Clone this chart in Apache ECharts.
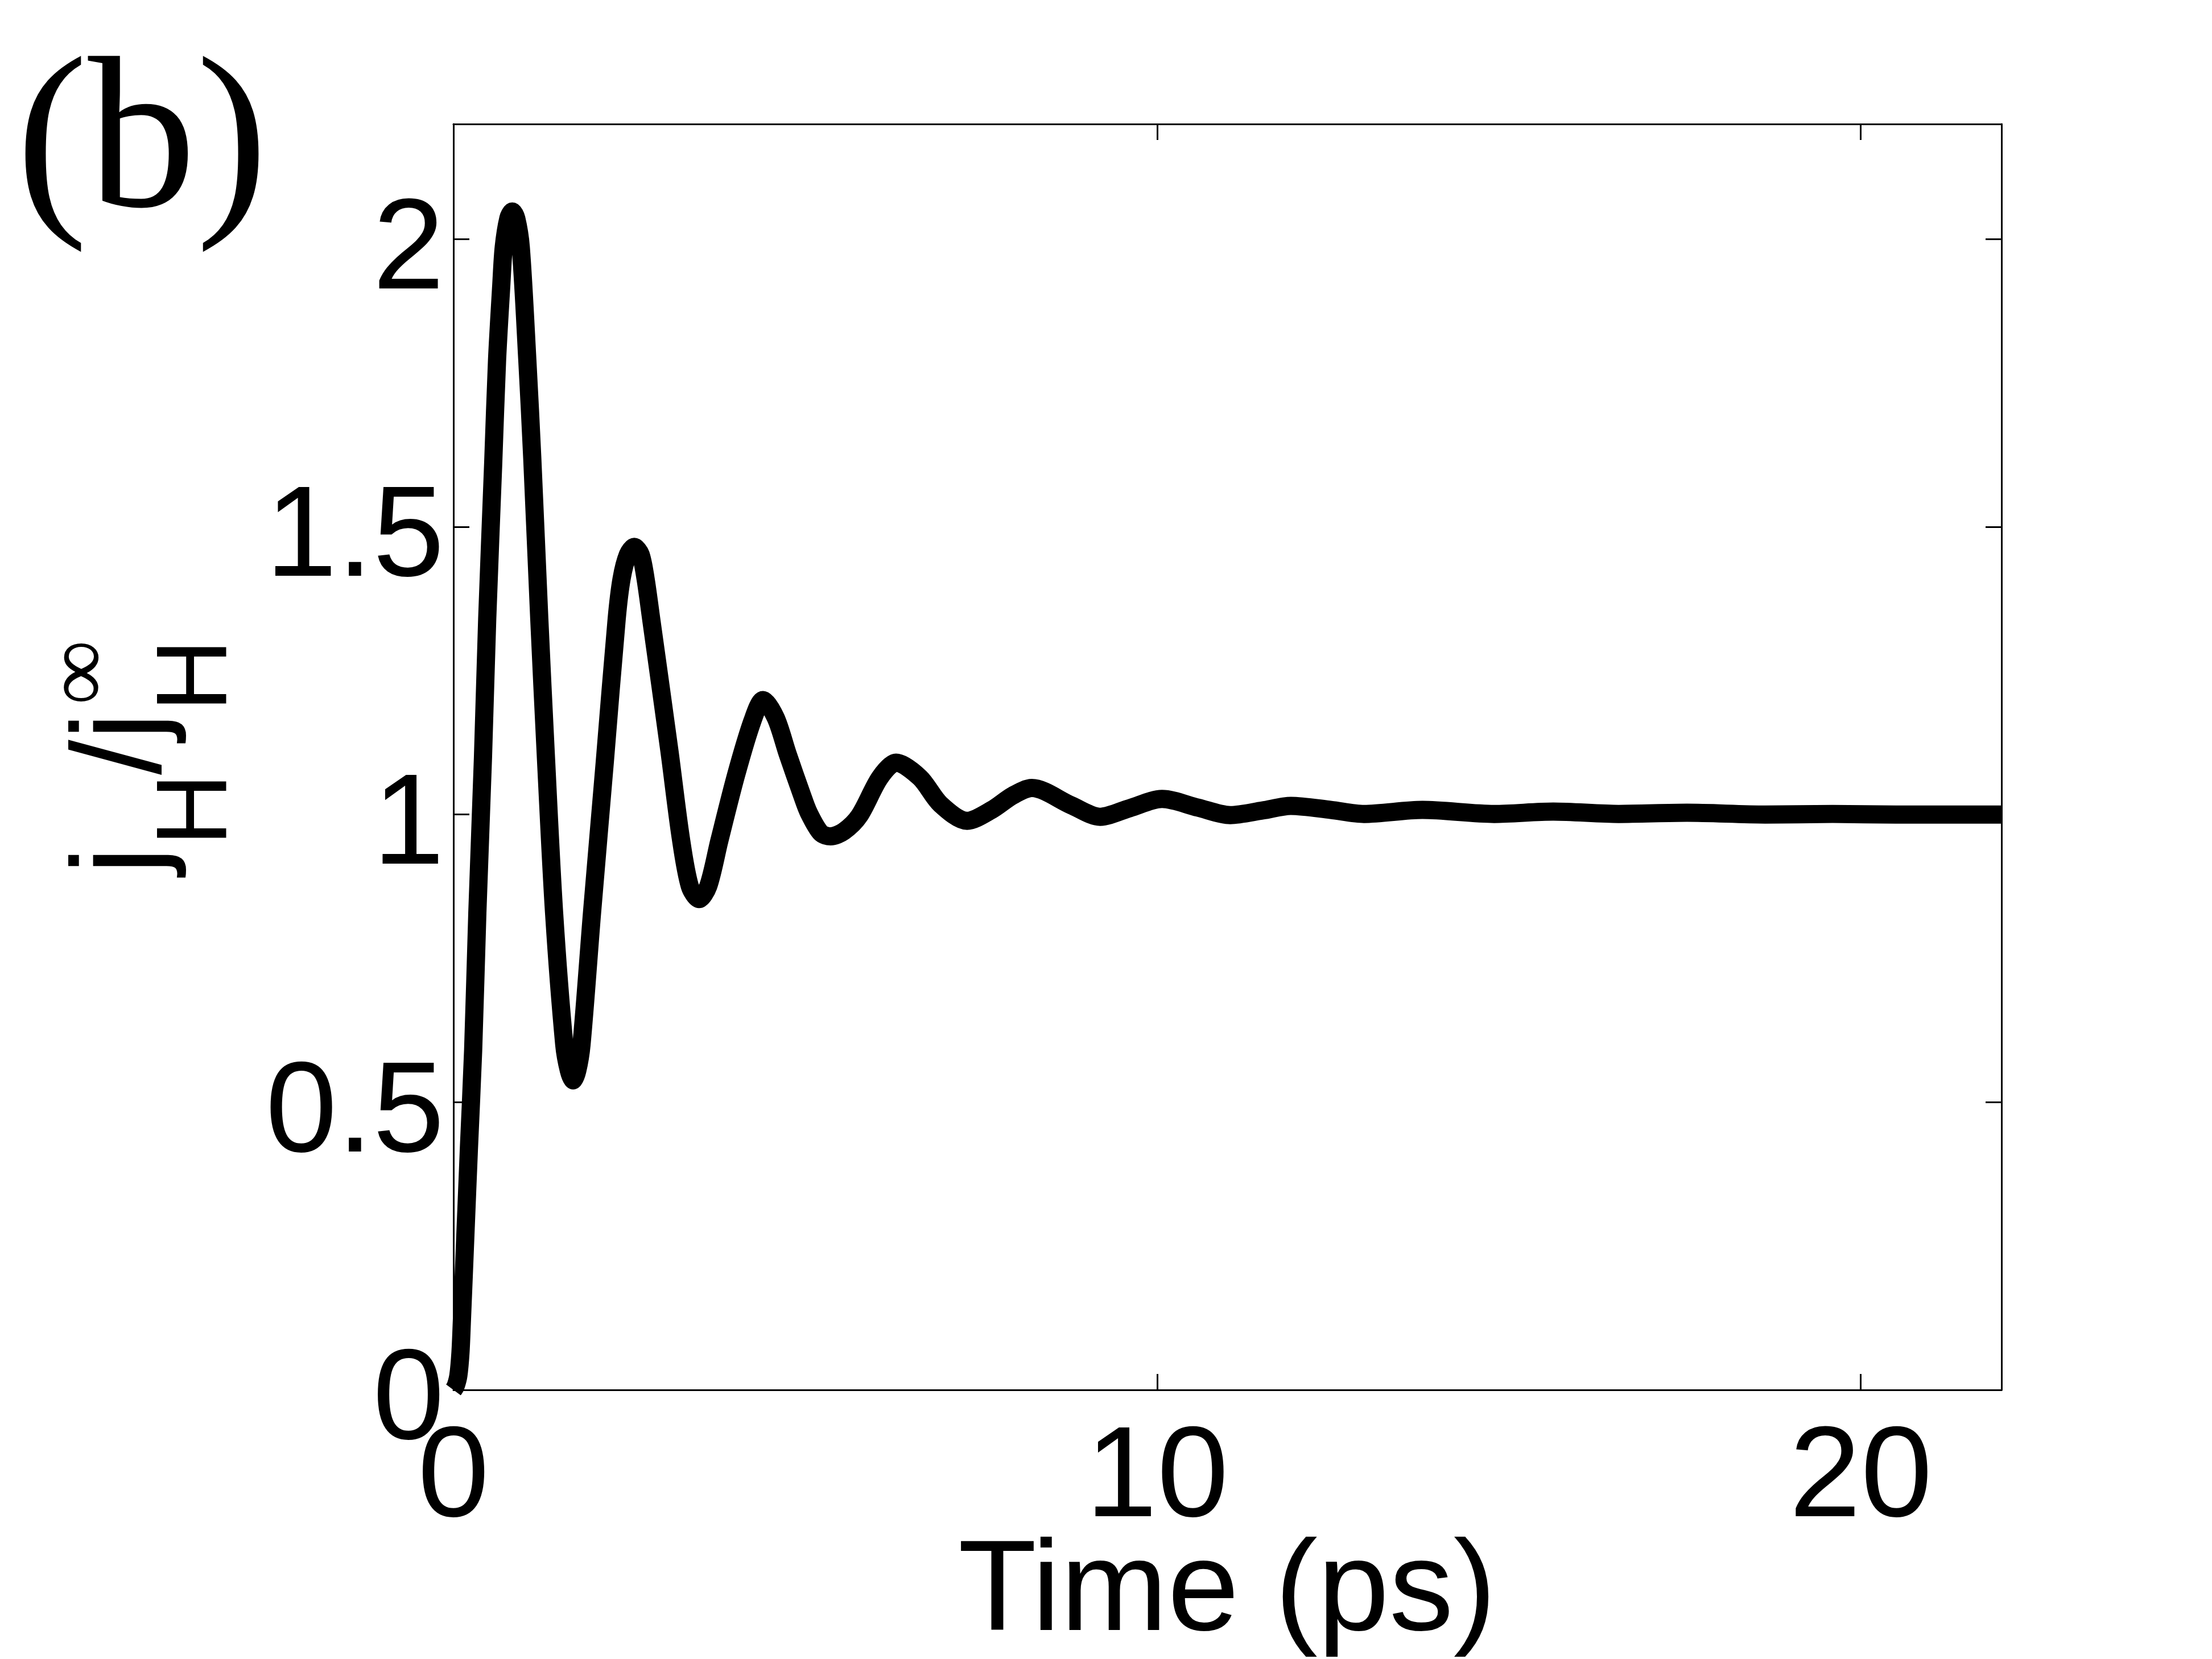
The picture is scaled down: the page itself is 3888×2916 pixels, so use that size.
<!DOCTYPE html>
<html>
<head>
<meta charset="utf-8">
<title>(b) current ratio vs time</title>
<script src="https://cdn.jsdelivr.net/npm/echarts@6/dist/echarts.min.js"></script>
<style>
  html, body { margin: 0; padding: 0; background: #fff; }
  #chart { width: 3888px; height: 2916px; }
</style>
</head>
<body>
<div id="chart"></div>
<script>
// values
const timePs = [0, 0.03, 0.07, 0.1, 0.12, 0.17, 0.22, 0.28, 0.34, 0.42, 0.48, 0.565, 0.62, 0.68,
  0.715, 0.78, 0.836, 0.893, 0.957, 1.05, 1.12, 1.22, 1.31, 1.43, 1.575, 1.64, 1.70, 1.76, 1.82,
  1.97, 2.15, 2.32, 2.39, 2.48, 2.57, 2.66, 2.73, 2.81, 3.07, 3.23, 3.36, 3.49, 3.62, 3.78,
  4.02, 4.25, 4.40, 4.58, 4.75, 4.95, 5.05, 5.22, 5.36, 5.55, 5.77, 6.06, 6.29, 6.63, 6.92,
  7.30, 7.65, 7.95, 8.22, 8.78, 9.19, 9.61, 10.07, 10.58, 11.04, 11.50, 11.90, 12.47, 12.94,
  13.77, 14.79, 15.63, 16.56, 17.53, 18.64, 19.60, 20.50, 21.20, 22.0];
const ratio = [0, 0.006, 0.025, 0.065, 0.12, 0.27, 0.42, 0.59, 0.83, 1.10, 1.34, 1.61, 1.79, 1.92,
  1.986, 2.036, 2.048, 2.036, 1.986, 1.79, 1.62, 1.34, 1.11, 0.83, 0.60, 0.555, 0.538, 0.555, 0.60,
  0.83, 1.09, 1.34, 1.41, 1.452, 1.465, 1.452, 1.41, 1.34, 1.11, 0.96, 0.875, 0.853, 0.875, 0.955,
  1.07, 1.163, 1.199, 1.168, 1.105, 1.035, 1.003, 0.968, 0.962, 0.971, 0.998, 1.064, 1.090, 1.064, 1.018,
  0.989, 1.008, 1.033, 1.046, 1.016, 0.996, 1.011, 1.027, 1.012, 0.999, 1.007, 1.015, 1.008, 1.001,
  1.008, 1.001, 1.005, 1.001, 1.003, 1.000, 1.001, 1.000, 1.000, 1.000];
const xTicks = [0, 10, 20];
const yTicks = [0, 0.5, 1, 1.5, 2];
const xTitle = 'Time (ps)';

const points = timePs.map((t, i) => [t, ratio[i]]);

const chart = echarts.init(document.getElementById('chart'), null, { renderer: 'canvas' });

const axisLineStyle = { color: '#000', width: 3 };
const tickStyle = { show: true, inside: true, length: 28, lineStyle: { color: '#000', width: 3 } };
const labelFont = 'Liberation Sans, Arial, sans-serif';
const serifFont = 'Liberation Serif, Times New Roman, serif';

// baseline offset for 'middle' aligned text (em middle above baseline)
const mid = (size) => -0.3465 * size;

const option = {
  backgroundColor: '#fff',
  animation: false,
  grid: { left: 797, right: 370, top: 218, bottom: 473, containLabel: false, outerBoundsMode: 'none' },
  xAxis: [{
    type: 'value',
    position: 'bottom',
    min: xTicks[0],
    max: 22,
    interval: xTicks[1] - xTicks[0],
    axisLine: { show: true, onZero: false, lineStyle: axisLineStyle },
    axisTick: tickStyle,
    splitLine: { show: false },
    axisLabel: {
      color: '#000', fontSize: 226, lineHeight: 226, fontFamily: labelFont,
      margin: 47, showMaxLabel: false
    }
  }, {
    type: 'value',
    position: 'top',
    min: xTicks[0],
    max: 22,
    interval: xTicks[1] - xTicks[0],
    axisLine: { show: true, onZero: false, lineStyle: axisLineStyle },
    axisTick: tickStyle,
    axisLabel: { show: false },
    splitLine: { show: false }
  }],
  yAxis: [{
    type: 'value',
    position: 'left',
    min: yTicks[0],
    max: 2.2,
    interval: yTicks[1] - yTicks[0],
    axisLine: { show: true, onZero: false, lineStyle: axisLineStyle },
    axisTick: tickStyle,
    splitLine: { show: false },
    axisLabel: {
      color: '#000', fontSize: 226, fontFamily: labelFont,
      verticalAlign: 'top', lineHeight: 48,
      margin: 16, showMaxLabel: false
    }
  }, {
    type: 'value',
    position: 'right',
    min: yTicks[0],
    max: 2.2,
    interval: yTicks[1] - yTicks[0],
    axisLine: { show: true, onZero: false, lineStyle: axisLineStyle },
    axisTick: tickStyle,
    axisLabel: { show: false },
    splitLine: { show: false }
  }],
  series: [{
    type: 'line',
    xAxisIndex: 0,
    yAxisIndex: 0,
    data: points,
    showSymbol: false,
    smooth: 0.3,
    clip: true,
    lineStyle: { color: '#000', width: 32, cap: 'butt', join: 'round' }
  }],
  graphic: [
    {
      type: 'text', left: 28, top: 72,
      style: { text: '(b)', fill: '#000', font: '380px ' + serifFont }
    },
    {
      // x axis title, centred under the plot area
      type: 'text', x: 2157, y: 2803,
      style: { text: xTitle, fill: '#000', font: '226px ' + labelFont,
        align: 'center', verticalAlign: 'middle' }
    },
    {
      // y axis title j_H / j_H^inf, rotated to read bottom-to-top
      type: 'group', x: 297, y: 1545, rotation: Math.PI / 2,
      children: [
        { type: 'text', x: 8, y: mid(222),
          style: { text: 'j', fill: '#000', font: '222px ' + labelFont, verticalAlign: 'middle' } },
        { type: 'text', x: 58, y: 113 + mid(177),
          style: { text: 'H', fill: '#000', font: '177px ' + labelFont, verticalAlign: 'middle' } },
        { type: 'text', x: 183, y: mid(222),
          style: { text: '/', fill: '#000', font: '222px ' + labelFont, verticalAlign: 'middle' } },
        { type: 'text', x: 244, y: mid(222),
          style: { text: 'j', fill: '#000', font: '222px ' + labelFont, verticalAlign: 'middle' } },
        { type: 'text', x: 294, y: 113 + mid(177),
          style: { text: 'H', fill: '#000', font: '177px ' + labelFont, verticalAlign: 'middle' } },
        { type: 'text', x: 306, y: -150,
          style: { text: '\u221E', fill: '#000', font: '160px ' + serifFont, verticalAlign: 'middle' } }
      ]
    }
  ]
};

chart.setOption(option);
</script>
</body>
</html>
